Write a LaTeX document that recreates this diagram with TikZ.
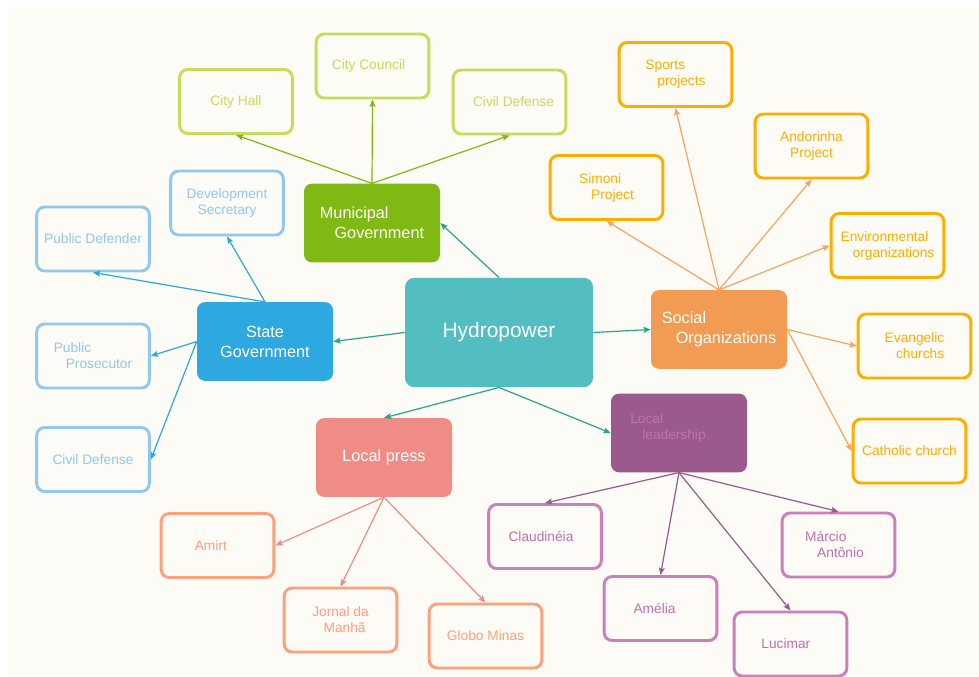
\documentclass[tikz,border=0pt]{standalone}
\usepackage{fontspec}
\setmainfont{Liberation Sans}
\usetikzlibrary{arrows.meta}
\definecolor{bgc}{HTML}{FCFBF5}
\definecolor{munic}{HTML}{80B913}
\definecolor{munil}{HTML}{C5DC5C}
\definecolor{statec}{HTML}{2EA8E0}
\definecolor{statel}{HTML}{90C8EE}
\definecolor{hydroc}{HTML}{52BEC2}
\definecolor{hydroa}{HTML}{26A68C}
\definecolor{pressc}{HTML}{F08C86}
\definecolor{pressl}{HTML}{FFA07C}
\definecolor{leadc}{HTML}{9B5A8C}
\definecolor{leadl}{HTML}{CC7FBB}
\definecolor{leadt}{HTML}{C070B0}
\definecolor{leadin}{HTML}{BC76AE}
\definecolor{socc}{HTML}{F29B52}
\definecolor{socl}{HTML}{FFAE00}
\definecolor{soca}{HTML}{F5A560}
\tikzset{
  child/.style={line width=2.2pt, rounded corners=6pt, fill=bgc,
    minimum width=84.5pt, minimum height=48pt, inner sep=0pt, align=left,
    font=\fontsize{10.3pt}{12pt}\selectfont},
  mainbox/.style={rounded corners=6pt, minimum width=102pt, minimum height=59pt,
    inner sep=0pt, align=left, text=white, font=\fontsize{12.2pt}{15pt}\selectfont},
  hub/.style={rounded corners=7pt, fill=hydroc, minimum width=141pt, minimum height=82pt,
    inner sep=0pt, text=white, font=\fontsize{15.7pt}{18pt}\selectfont},
  conn/.style={line width=0.9pt, -{Stealth[length=5.5pt,width=4.5pt,inset=1pt]}},
  munibox/.style={child, draw=munil, text=munil},
  statebox/.style={child, draw=statel, text=statel},
  pressbox/.style={child, draw=pressl, text=pressl},
  leadbox/.style={child, draw=leadl, text=leadt},
  socbox/.style={child, draw=socl, text=socl},
}
\begin{document}
\begin{tikzpicture}[x=0.75pt,y=-0.75pt]
\useasboundingbox (0,0) rectangle (979,676);
\fill[white] (0,0) rectangle (979,676);
\fill[bgc] (8,7) rectangle (979,676);

% hub
\node[hub] (hydro) at (499,332.5) {Hydropower};

% main nodes
\node[mainbox, fill=munic] (muni) at (372,223) {Municipal\\\hspace*{11pt}Government};
\node[mainbox, fill=statec, align=center] (state) at (265,341.5) {State\\Government};
\node[mainbox, fill=socc] (social) at (719,329.5) {Social\\\hspace*{10.5pt}Organizations};
\node[mainbox, fill=pressc] (press) at (384,457.5) {Local press};
\node[mainbox, fill=leadc] (leader) at (679,433) {};
\node[align=left, text=leadin, font=\fontsize{10.3pt}{12.5pt}\selectfont] (leadertext) at (668,428) {Local\\\hspace*{9pt}leadership};

% municipal children
\node[munibox] (cityhall) at (236,101.5) {City Hall};
\node[munibox] (citycouncil) at (372.5,66) {City Council\hspace*{6pt}};
\node[munibox] (civildefm) at (509.5,102) {\hspace*{6pt}Civil Defense};

% state children
\node[statebox, align=center] (devsec) at (227,203) {Development\\Secretary};
\node[statebox] (pubdef) at (93,239) {Public Defender};
\node[statebox] (pubpros) at (93,356) {Public\\\hspace*{9pt}Prosecutor};
\node[statebox] (civildefs) at (93,459.5) {Civil Defense};

% social children
\node[socbox] (simoni) at (606.5,187.5) {Simoni\\\hspace*{9pt}Project};
\node[socbox] (sports) at (675.5,74.5) {Sports\\\hspace*{9pt}projects};
\node[socbox, align=center] (andorinha) at (811.5,146) {Andorinha\\Project};
\node[socbox] (env) at (887.5,245.5) {Environmental\\\hspace*{9pt}organizations};
\node[socbox] (evang) at (914.5,346) {Evangelic\\\hspace*{8.5pt}churchs};
\node[socbox] (catholic) at (909.5,451) {Catholic church};

% press children
\node[pressbox] (amirt) at (217.5,545.5) {Amirt\hspace*{10pt}};
\node[pressbox] (jornal) at (340.5,620) {Jornal da\\\hspace*{8.5pt}Manhã};
\node[pressbox] (globo) at (485.5,636) {Globo Minas};

% leadership children
\node[leadbox] (claud) at (545,536.5) {Claudinéia\hspace*{6pt}};
\node[leadbox] (amelia) at (660.5,608.5) {Amélia\hspace*{9pt}};
\node[leadbox] (lucimar) at (790.5,644) {Lucimar\hspace*{7pt}};
\node[leadbox] (marcio) at (838.5,545) {Márcio\\\hspace*{9pt}Antônio\hspace*{6pt}};

% hub connectors
\draw[conn, hydroa] (hydro.north) -- (muni.east);
\draw[conn, hydroa] (hydro.west) -- (state.east);
\draw[conn, hydroa] (hydro.east) -- (social.west);
\draw[conn, hydroa] (hydro.south) -- (press.north);
\draw[conn, hydroa] (hydro.south) -- (leader.west);

% municipal connectors
\draw[conn, munic] (muni.north) -- (cityhall.south);
\draw[conn, munic] (muni.north) -- (citycouncil.south);
\draw[conn, munic] (muni.north) -- (civildefm.south);

% state connectors
\draw[conn, statec] (state.north) -- (devsec.south);
\draw[conn, statec] (state.north) -- (pubdef.south);
\draw[conn, statec] (state.west) -- (pubpros.east);
\draw[conn, statec] (state.west) -- (civildefs.east);

% social connectors
\draw[conn, soca] (social.north) -- (simoni.south);
\draw[conn, soca] (social.north) -- (sports.south);
\draw[conn, soca] (social.north) -- (andorinha.south);
\draw[conn, soca] (social.north) -- (env.west);
\draw[conn, soca] (social.east) -- (evang.west);
\draw[conn, soca] (social.east) -- (catholic.west);

% press connectors
\draw[conn, pressc] (press.south) -- (amirt.east);
\draw[conn, pressc] (press.south) -- (jornal.north);
\draw[conn, pressc] (press.south) -- (globo.north);

% leadership connectors
\draw[conn, leadc] (leader.south) -- (claud.north);
\draw[conn, leadc] (leader.south) -- (amelia.north);
\draw[conn, leadc] (leader.south) -- (lucimar.north);
\draw[conn, leadc] (leader.south) -- (marcio.north);
\end{tikzpicture}
\end{document}
